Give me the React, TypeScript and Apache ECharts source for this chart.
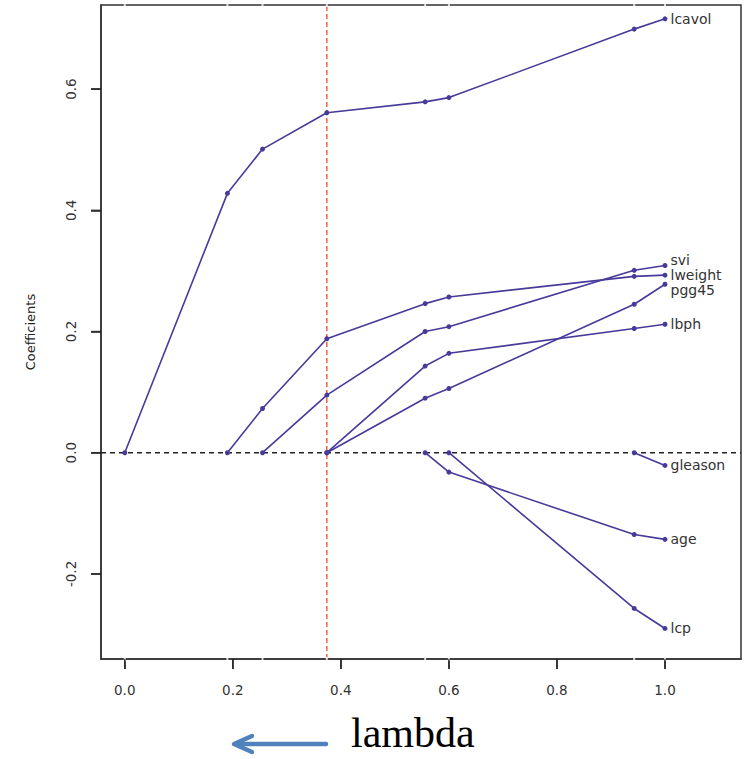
import React, { useEffect, useRef } from "react";
import * as echarts from "echarts";

const knots = [0, 0.19, 0.255, 0.374, 0.556, 0.6, 0.943, 1.0];
const names = ["lcavol", "lweight", "svi", "lbph", "pgg45", "age", "lcp", "gleason"];
const lcavol = [0, 0.428, 0.501, 0.561, 0.579, 0.586, 0.699, 0.716];
const lweight = [null, 0, 0.073, 0.188, 0.246, 0.257, 0.291, 0.293];
const svi = [null, null, 0, 0.095, 0.2, 0.208, 0.301, 0.309];
const lbph = [null, null, null, 0, 0.143, 0.164, 0.205, 0.212];
const pgg45 = [null, null, null, 0, 0.09, 0.106, 0.245, 0.278];
const age = [null, null, null, null, 0, -0.032, -0.135, -0.143];
const lcp = [null, null, null, null, null, 0, -0.257, -0.29];
const gleason = [null, null, null, null, null, null, 0, -0.021];
const seriesValues = [lcavol, lweight, svi, lbph, pgg45, age, lcp, gleason];
const labelOffsets: Record<string, number[]> = { svi: [0, -5], pgg45: [0, 6] };

const xTicks = [0, 0.2, 0.4, 0.6, 0.8, 1.0];
const yTicks = [-0.2, 0, 0.2, 0.4, 0.6];
const xMin = -0.044;
const xMax = 1.1407;
const yMin = -0.3404;
const yMax = 0.7388;
const chosenLambda = 0.374;

const LINE = "#463a9a";
const FONT = "DejaVu Sans, Liberation Sans, Arial, sans-serif";

export default function App() {
  const ref = useRef<HTMLDivElement>(null);
  useEffect(() => {
    document.body.style.margin = "0";
    const chart = echarts.init(ref.current!, undefined, { renderer: "svg" });
    const pathSeries = names.map((name, i) => {
      const vals = seriesValues[i];
      const data: any[] = [];
      vals.forEach((v, k) => {
        if (v === null) return;
        const isLast = k === vals.length - 1;
        data.push(
          isLast
            ? {
                value: [knots[k], v],
                label: {
                  show: true,
                  position: "right",
                  distance: 3,
                  formatter: name,
                  offset: labelOffsets[name] || [0, 0],
                  fontSize: 14,
                  color: "#333",
                  fontFamily: FONT,
                },
              }
            : [knots[k], v]
        );
      });
      return {
        type: "line",
        name,
        data,
        symbol: "circle",
        symbolSize: 5,
        showSymbol: true,
        lineStyle: { color: LINE, width: 1.6 },
        itemStyle: { color: LINE },
        z: 4,
      };
    });
    const gapData: any[] = [];
    knots.forEach((k) => {
      gapData.push([k, yMax]);
      gapData.push([k, yMin]);
    });
    chart.setOption({
      animation: false,
      grid: {
        left: 101,
        right: 5,
        top: 5,
        bottom: 100,
        show: true,
        borderColor: "#333",
        borderWidth: 1.5,
      },
      xAxis: {
        type: "value",
        min: xMin,
        max: xMax,
        axisLine: { show: true, onZero: false, lineStyle: { color: "#333", width: 1.5 } },
        splitLine: { show: false },
        axisTick: { show: true, length: 10, customValues: xTicks, lineStyle: { color: "#222", width: 1.5 } },
        axisLabel: {
          customValues: xTicks,
          margin: 24,
          fontSize: 13.5,
          color: "#333",
          fontFamily: FONT,
          formatter: (v: number) => v.toFixed(1),
        },
      },
      yAxis: {
        type: "value",
        min: yMin,
        max: yMax,
        name: "Coefficients",
        nameLocation: "middle",
        nameGap: 64,
        nameRotate: 90,
        nameTextStyle: { fontSize: 13, color: "#222", fontFamily: FONT },
        axisLine: { show: true, onZero: false, lineStyle: { color: "#333", width: 1.5 } },
        splitLine: { show: false },
        axisTick: { show: true, length: 10, customValues: yTicks, lineStyle: { color: "#222", width: 1.5 } },
        axisLabel: {
          customValues: yTicks,
          rotate: 90,
          margin: 23,
          fontSize: 13.5,
          color: "#333",
          fontFamily: FONT,
          formatter: (v: number) => v.toFixed(1),
        },
      },
      series: [
        {
          type: "line",
          data: [
            [xMin, 0],
            [xMax, 0],
          ],
          symbol: "none",
          lineStyle: { color: "#222", width: 1.5, type: [5, 4] },
          z: 2,
          silent: true,
        },
        {
          type: "line",
          data: [
            [chosenLambda, yMin],
            [chosenLambda, yMax],
          ],
          symbol: "none",
          lineStyle: { color: "#f2613f", width: 1.5, type: [5, 3] },
          z: 3,
          silent: true,
        },
        ...pathSeries,
        {
          type: "scatter",
          data: gapData,
          symbol: "rect",
          symbolSize: [2, 4],
          itemStyle: { color: "#fff" },
          clip: false,
          z: 5,
          silent: true,
        },
        {
          type: "scatter",
          data: xTicks.map((t) => [t, yMin]),
          symbol: "rect",
          symbolSize: [1.5, 10],
          symbolOffset: [0, 5],
          itemStyle: { color: "#222" },
          clip: false,
          z: 6,
          silent: true,
        },
        {
          type: "scatter",
          data: yTicks.map((t) => [xMin, t]),
          symbol: "rect",
          symbolSize: [10, 1.5],
          symbolOffset: [-5, 0],
          itemStyle: { color: "#222" },
          clip: false,
          z: 6,
          silent: true,
        },
      ],
      graphic: [
        {
          type: "text",
          left: 351,
          top: 712,
          style: {
            text: "lambda",
            font: "42px Liberation Serif, Times New Roman, serif",
            fill: "#000",
          },
        },
        {
          type: "line",
          shape: { x1: 236, y1: 744, x2: 326, y2: 744 },
          style: { stroke: "#4f81bd", lineWidth: 4.5, lineCap: "round" },
        },
        {
          type: "polyline",
          shape: {
            points: [
              [252, 736],
              [234, 744],
              [252, 752],
            ],
          },
          style: { stroke: "#4f81bd", lineWidth: 4.5, lineCap: "round", lineJoin: "round", fill: "none" },
        },
      ],
    });
    return () => chart.dispose();
  }, []);
  return <div ref={ref} style={{ width: 746, height: 759 }} />;
}
